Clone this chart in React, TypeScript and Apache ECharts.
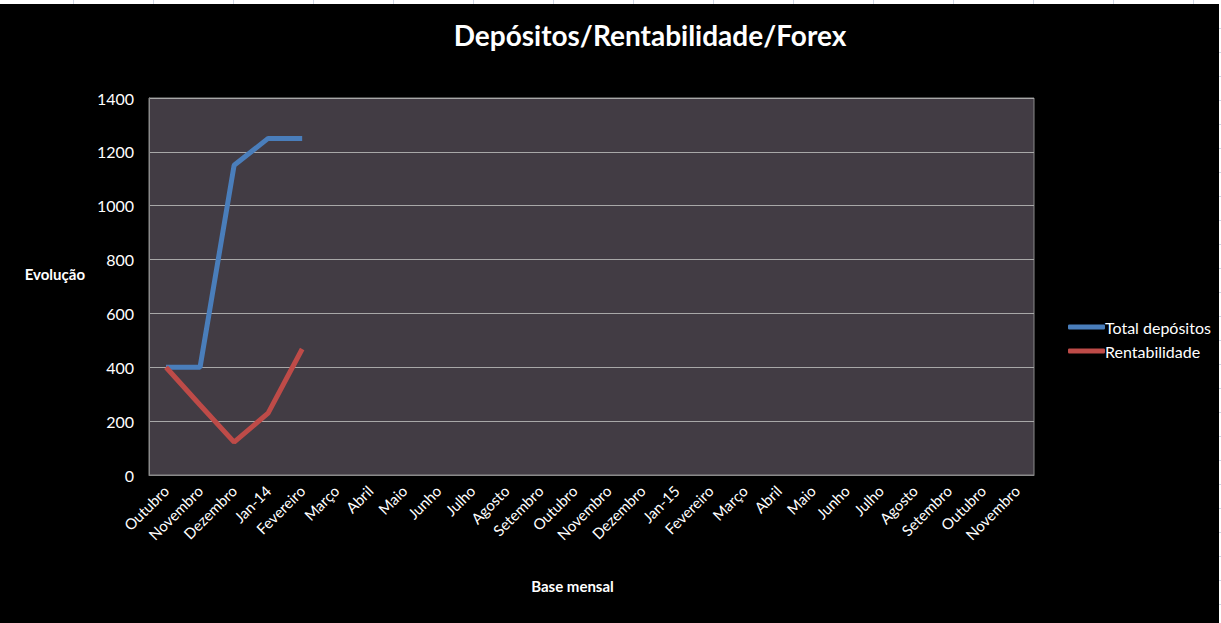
import React, { useEffect, useRef } from "react";
import * as echarts from "echarts";

const categories = [
  "Outubro", "Novembro", "Dezembro", "Jan-14", "Fevereiro", "Março", "Abril", "Maio", "Junho",
  "Julho", "Agosto", "Setembro", "Outubro", "Novembro", "Dezembro", "Jan-15", "Fevereiro",
  "Março", "Abril", "Maio", "Junho", "Julho", "Agosto", "Setembro", "Outubro", "Novembro",
];
const totalDepositos = [400, 400, 1150, 1250, 1250];
const rentabilidade = [400, 260, 122, 230, 468];
const seriesNames = ["Total depósitos", "Rentabilidade"];
const yAxisTitle = "Evolução";
const FONT = "Lato, 'Noto Sans', sans-serif";

export default function App() {
  const ref = useRef<HTMLDivElement>(null);
  useEffect(() => {
    document.body.style.margin = "0";
    const chart = echarts.init(ref.current!, null, { renderer: "svg" });
    const cellLines: any[] = [];
    for (let x = 73; x < 1221; x += 80) {
      cellLines.push({ type: "line", shape: { x1: x + 0.5, y1: 0, x2: x + 0.5, y2: 4 }, style: { stroke: "#d0d7e5", lineWidth: 1 } });
    }
    for (let y = 28; y < 623; y += 24) {
      cellLines.push({ type: "line", shape: { x1: 1219, y1: y + 0.5, x2: 1221, y2: y + 0.5 }, style: { stroke: "#d0d7e5", lineWidth: 1 } });
    }
    chart.setOption({
      animation: false,
      backgroundColor: "#000000",
      graphic: [
        { type: "rect", shape: { x: 0, y: 0, width: 1221, height: 4 }, style: { fill: "#ffffff" }, silent: true },
        { type: "rect", shape: { x: 1219, y: 0, width: 2, height: 623 }, style: { fill: "#ffffff" }, silent: true },
        ...cellLines,
        {
          type: "text",
          x: 85,
          y: 274,
          style: {
            text: yAxisTitle,
            fill: "#ffffff",
            font: `bold 15px ${FONT}`,
            textAlign: "right",
            textVerticalAlign: "middle",
          },
        },
      ],
      title: {
        text: "Depósitos/Rentabilidade/Forex",
        left: 645,
        textAlign: "center",
        top: 16,
        textStyle: { color: "#ffffff", fontSize: 28, fontWeight: "bold", fontFamily: FONT },
      },
      legend: {
        orient: "vertical",
        left: 1063,
        top: 314,
        itemGap: 8,
        itemWidth: 37,
        itemHeight: 5,
        icon: "roundRect",
        textStyle: { color: "#ffffff", fontSize: 16, fontFamily: FONT, padding: [0, 0, 0, -5] },
        data: seriesNames,
      },
      grid: {
        left: 149,
        right: 187,
        top: 98,
        bottom: 148,
        show: true,
        backgroundColor: "#423c44",
        borderColor: "#8a8a8a",
        borderWidth: 1,
      },
      xAxis: {
        type: "category",
        data: categories,
        boundaryGap: true,
        name: "Base mensal",
        nameLocation: "middle",
        nameGap: 103,
        nameTextStyle: { color: "#ffffff", fontSize: 15, fontWeight: "bold", fontFamily: FONT, padding: [0, 38, 0, 0] },
        axisLine: { lineStyle: { color: "#8a8a8a" } },
        axisTick: { show: false },
        axisLabel: { color: "#ffffff", fontSize: 15, rotate: 45, interval: 0, margin: 13, fontFamily: FONT },
      },
      yAxis: {
        type: "value",
        min: 0,
        max: 1400,
        interval: 200,
        axisLine: { show: true, lineStyle: { color: "#8a8a8a" } },
        axisTick: { show: false },
        axisLabel: { color: "#ffffff", fontSize: 16, margin: 15, fontFamily: FONT, formatter: (v: number) => String(v) },
        splitLine: { lineStyle: { color: "#a8a8a8", width: 1 } },
      },
      series: [
        {
          name: seriesNames[0],
          type: "line",
          data: totalDepositos,
          symbol: "none",
          lineStyle: { color: "#4a7ebb", width: 5 },
          itemStyle: { color: "#4a7ebb" },
        },
        {
          name: seriesNames[1],
          type: "line",
          data: rentabilidade,
          symbol: "none",
          lineStyle: { color: "#be4b48", width: 5 },
          itemStyle: { color: "#be4b48" },
        },
      ],
    });
    return () => chart.dispose();
  }, []);
  return <div ref={ref} style={{ width: 1221, height: 623 }} />;
}
